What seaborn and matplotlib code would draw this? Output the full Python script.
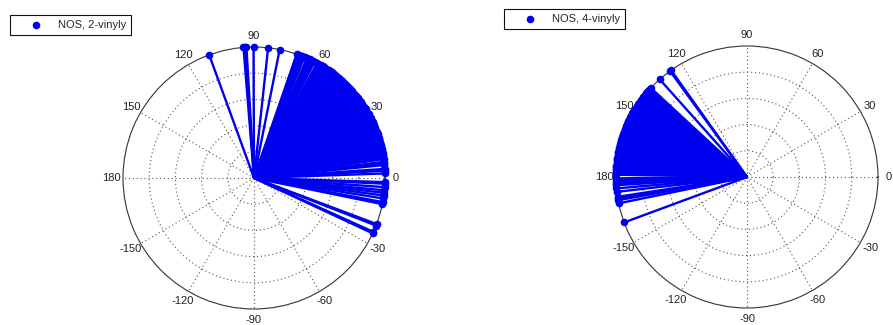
import numpy as np
import pandas as pd
import matplotlib
matplotlib.use("Agg")
import matplotlib.pyplot as plt
import seaborn as sns

# Dihedral angles (degrees) of the vinyl groups, one stem per conformer
vinyl2_angles = [
    110.0, 94.6, 93.9, 93.3, 90.2, 83.8, 78.7,
    71.0, 70.5, 69.7, 69.2, 68.4, 67.9, 67.3, 66.1, 65.5, 64.8, 64.2, 63.6,
    63.0, 62.4, 61.2, 60.6, 59.9, 59.2, 58.4, 57.9, 57.1, 56.6, 55.8, 55.3,
    54.5, 53.7, 53.2, 52.4, 51.8, 51.1, 50.6, 49.8, 49.3, 48.5, 48.0, 47.2,
    46.7, 45.9, 45.4, 44.6, 44.0, 43.3, 42.8, 42.0, 41.5, 40.7, 40.1, 39.4,
    38.9, 38.1, 37.6, 36.8, 36.2, 35.5, 35.0, 34.2, 33.6, 32.9, 32.4, 31.6,
    31.0, 30.3, 29.8, 29.0, 28.4, 27.7, 27.2, 26.4, 25.8, 25.1, 24.6, 23.8,
    23.2, 22.5, 22.0, 21.2, 20.6, 19.9, 19.4, 18.6, 18.0, 17.3, 16.8, 16.0,
    15.4, 14.7, 14.2, 13.4, 12.8, 12.1, 11.6, 10.8, 10.2, 9.5, 8.9, 8.3,
    7.1, 6.4, 5.7, 4.0, 3.2, 2.0,
    -1.8, -2.5, -4.0, -5.4, -6.5, -7.7, -9.0, -10.6, -11.5,
    -20.6, -21.3, -24.3, -25.0,
]
vinyl4_angles = [
    126.0, 125.4, 131.8, 137.2, 137.8,
    138.6, 139.1, 139.8, 140.4, 141.0, 141.7, 142.2, 142.9, 143.6, 144.2,
    144.9, 145.4, 146.1, 146.7, 147.3, 148.0, 148.5, 149.2, 149.8, 150.5,
    151.0, 151.7, 152.3, 152.9, 153.6, 154.1, 154.8, 155.4, 156.0, 156.7,
    157.2, 157.9, 158.5, 159.1, 159.8, 160.3, 161.0, 161.6, 162.2, 162.9,
    163.4, 164.1, 164.7, 165.3, 166.0, 166.5, 167.2, 167.8, 168.4, 169.1,
    169.6, 170.3, 170.9, 171.5, 172.2, 172.7, 173.4, 174.0, 174.6, 175.3,
    175.8, 176.5, 177.1, 177.7, 178.4, 179.0,
    180.6, 181.4, 182.1, 182.9, 183.6, 185.0, 186.5, 188.7, 189.4, 190.2,
    191.6, 200.3,
]
series_labels = ["NOS, 2-vinyly", "NOS, 4-vinyly"]
theta_ticks = [0, 30, 60, 90, 120, 150, 180, 210, 240, 270, 300, 330]
theta_labels = ["0", "30", "60", "90", "120", "150", "180",
                "-150", "-120", "-90", "-60", "-30"]
ring_ticks = [0.2, 0.4, 0.6, 0.8]

sns.set_style("white")
plt.rcParams["font.family"] = ["Liberation Sans", "DejaVu Sans"]

BLUE = "#0000f0"
W, H = 893, 325
fig = plt.figure(figsize=(W / 100, H / 100), dpi=100)

panels = [
    (vinyl2_angles, series_labels[0], (254, 178), (10, 15)),
    (vinyl4_angles, series_labels[1], (747, 177), (504, 9)),
]
R = 131

for angles, label, (cx, cy), (lx, ly) in panels:
    ax = fig.add_axes([(cx - R) / W, (H - cy - R) / H, 2 * R / W, 2 * R / H],
                      projection="polar")
    theta = np.deg2rad(np.asarray(angles, dtype=float))
    n = len(theta)

    stems = pd.DataFrame({
        "theta": np.repeat(theta, 2),
        "r": np.tile([0.0, 1.0], n),
        "stem": np.repeat(np.arange(n), 2),
    })
    tips = pd.DataFrame({"theta": theta, "r": np.ones(n)})

    sns.lineplot(data=stems, x="theta", y="r", units="stem", estimator=None,
                 sort=False, color=BLUE, linewidth=1.7, legend=False, ax=ax,
                 solid_capstyle="butt", zorder=3)
    sns.scatterplot(data=tips, x="theta", y="r", color=BLUE, s=30,
                    linewidth=0, label=label, ax=ax, zorder=4, clip_on=False)

    ax.set_rlim(0, 1)
    ax.set_rticks(ring_ticks)
    ax.set_yticklabels([])
    ax.set_thetagrids(theta_ticks, theta_labels)
    ax.tick_params(axis="x", labelsize=8, pad=-2.5, colors="#222222")
    ax.grid(True, linestyle=(0, (1, 2.5)), color="#555555", linewidth=0.8)
    ax.spines["polar"].set_color("#333333")
    ax.spines["polar"].set_linewidth(0.8)
    ax.set_xlabel("")
    ax.set_ylabel("")

    leg = ax.legend(loc="upper left", bbox_to_anchor=(lx / W, 1 - ly / H),
                    bbox_transform=fig.transFigure, borderaxespad=0,
                    fancybox=False, framealpha=1, edgecolor="#111111",
                    fontsize=8, handlelength=3.7, handletextpad=0.15,
                    borderpad=0.45, markerscale=1.0)
    leg.get_frame().set_linewidth(0.8)

fig.savefig("out.png", dpi=100)
